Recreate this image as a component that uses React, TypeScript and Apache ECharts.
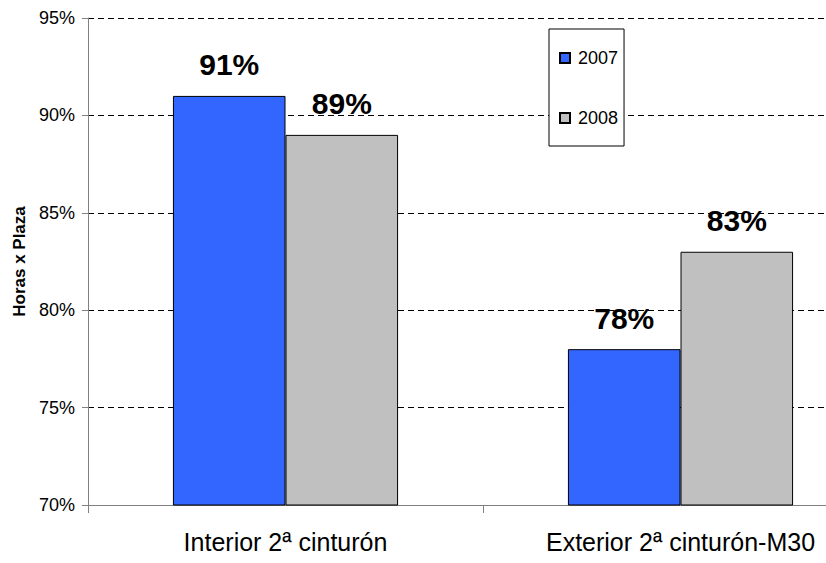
import React, { useEffect, useRef } from "react";
import * as echarts from "echarts";

const categories = ["Interior 2ª cinturón", "Exterior 2ª cinturón-M30"];
const seriesNames = ["2007", "2008"];
const values2007 = [91, 78];
const values2008 = [89, 83];
const yTicks = [70, 75, 80, 85, 90, 95];

const FONT = "'Liberation Sans', Arial, sans-serif";

export default function App() {
  const ref = useRef<HTMLDivElement>(null);
  useEffect(() => {
    if (!ref.current) return;
    const chart = echarts.init(ref.current, undefined, { renderer: "svg" });
    const labelCfg = {
      show: true,
      position: "top",
      distance: 16,
      formatter: (p: any) => p.value + "%",
      fontFamily: FONT,
      fontWeight: "bold",
      fontSize: 30,
      color: "#000",
    };
    chart.setOption({
      animation: false,
      backgroundColor: "#fff",
      textStyle: { fontFamily: FONT },
      grid: { left: 88, top: 18, bottom: 58, right: 0, containLabel: false },
      legend: {
        orient: "vertical",
        left: 549,
        top: 29,
        padding: [20, 6, 19, 10],
        itemGap: 42,
        itemWidth: 10,
        itemHeight: 10,
        icon: "rect",
        backgroundColor: "#fff",
        borderColor: "#000",
        borderWidth: 1,
        textStyle: { fontFamily: FONT, fontSize: 18, color: "#000", padding: [0, 0, 0, 3] },
        data: seriesNames,
      },
      xAxis: {
        type: "category",
        data: categories,
        axisLine: { lineStyle: { color: "#808080", width: 1 } },
        axisTick: { show: true, length: 8, lineStyle: { color: "#808080" } },
        axisLabel: { fontFamily: FONT, fontSize: 25, color: "#000", margin: 24, interval: 0 },
      },
      yAxis: {
        type: "value",
        min: yTicks[0],
        max: yTicks[yTicks.length - 1],
        interval: 5,
        name: "Horas x Plaza",
        nameLocation: "middle",
        nameGap: 58,
        nameTextStyle: { fontFamily: FONT, fontWeight: "bold", fontSize: 17, color: "#000" },
        axisLine: { show: true, lineStyle: { color: "#808080", width: 1 } },
        axisTick: { show: true, length: 6, lineStyle: { color: "#808080" } },
        axisLabel: {
          fontFamily: FONT,
          fontSize: 18,
          color: "#000",
          margin: 13,
          formatter: (v: number) => v + "%",
        },
        splitLine: { show: true, lineStyle: { color: "#000", type: [6, 4], width: 1 } },
      },
      series: [
        {
          name: seriesNames[0],
          type: "bar",
          data: values2007,
          barGap: "0%",
          barCategoryGap: "43%",
          itemStyle: { color: "#3366FF", borderColor: "#000", borderWidth: 1 },
          label: labelCfg,
        },
        {
          name: seriesNames[1],
          type: "bar",
          data: values2008,
          barGap: "0%",
          barCategoryGap: "43%",
          itemStyle: { color: "#C0C0C0", borderColor: "#000", borderWidth: 1 },
          label: labelCfg,
        },
      ],
    });
    return () => chart.dispose();
  }, []);
  return (
    <div style={{ width: 826, height: 563, position: "absolute", left: 0, top: 0, overflow: "hidden" }}>
      <div ref={ref} style={{ width: 878, height: 563 }} />
    </div>
  );
}
